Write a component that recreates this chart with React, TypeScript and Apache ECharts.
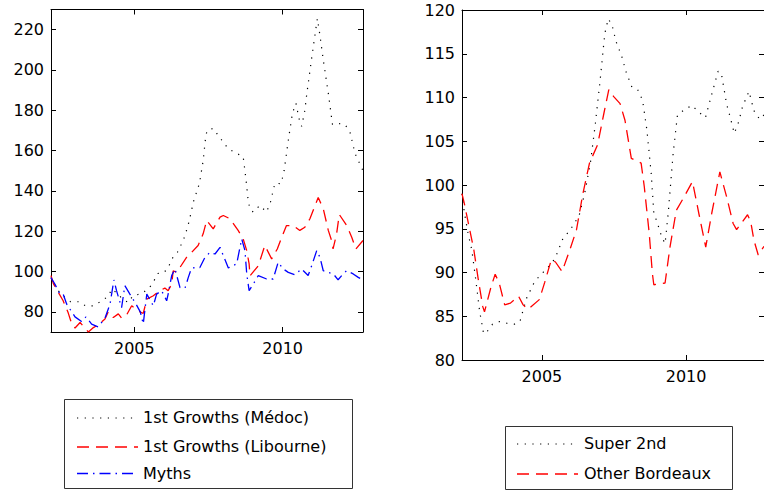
import React, { useEffect, useRef } from "react";
import * as echarts from "echarts";

// ---- Left panel data ----
const medocYears = [2002.19, 2002.35, 2002.55, 2002.85, 2003.15, 2003.35, 2003.6, 2003.85, 2004.1, 2004.25, 2004.45, 2004.6, 2004.8, 2004.95, 2005.25, 2005.5, 2005.65, 2005.78, 2006.0, 2006.15, 2006.25, 2006.45, 2006.58, 2006.7, 2006.85, 2006.99, 2007.2, 2007.32, 2007.4, 2007.45, 2007.66, 2007.82, 2008.16, 2008.45, 2008.67, 2008.77, 2008.84, 2008.9, 2009.01, 2009.23, 2009.46, 2009.59, 2009.74, 2009.95, 2010.05, 2010.19, 2010.33, 2010.45, 2010.55, 2010.64, 2010.75, 2010.81, 2010.98, 2011.1, 2011.17, 2011.25, 2011.37, 2011.54, 2011.68, 2011.84, 2012.1, 2012.27, 2012.44, 2012.71];
const medocValues = [97, 92, 88.5, 85, 85, 83, 83, 85, 87.5, 91.3, 88.8, 86.3, 84.6, 88, 89, 91.8, 95, 99, 99.6, 102, 106, 109.5, 113.4, 117.4, 125, 134.5, 144, 155, 166, 170, 171, 167.7, 161, 158.6, 157, 145, 135, 131, 129.5, 132.8, 129.5, 134.5, 143.8, 143.6, 150, 165, 178.5, 183.5, 176, 172, 180, 187.6, 206, 218.4, 225.5, 218, 205, 188.5, 173, 173.5, 173, 169.3, 158.6, 150];

const libourneYears = [2002.19, 2002.27, 2002.44, 2002.6, 2002.77, 2002.89, 2003.0, 2003.17, 2003.45, 2003.62, 2003.78, 2004.01, 2004.12, 2004.29, 2004.46, 2004.57, 2004.74, 2004.91, 2005.13, 2005.3, 2005.42, 2005.64, 2005.86, 2006.03, 2006.14, 2006.26, 2006.31, 2006.43, 2006.76, 2006.93, 2007.15, 2007.32, 2007.44, 2007.66, 2007.89, 2008.0, 2008.22, 2008.5, 2008.67, 2008.79, 2008.87, 2008.9, 2009.18, 2009.4, 2009.63, 2009.82, 2009.97, 2010.13, 2010.36, 2010.58, 2010.75, 2010.92, 2011.2, 2011.37, 2011.54, 2011.65, 2011.7, 2011.82, 2011.91, 2012.16, 2012.33, 2012.47, 2012.71];
const libourneValues = [98, 94, 89.6, 85.5, 79.5, 74, 72, 74.7, 70, 72.2, 73.5, 76.4, 80, 77.2, 79, 76.9, 78.5, 83, 80.5, 79.2, 86.3, 88, 90.5, 91.8, 90.5, 93.8, 100.4, 99.6, 107, 109.5, 112.9, 118.7, 125.3, 121.2, 127, 127.8, 126.2, 120.4, 116.2, 110.4, 103.8, 97.9, 102.9, 112.9, 106.3, 111.2, 117, 122.8, 122.8, 120.4, 122, 126.2, 136.7, 131.2, 120.4, 115.4, 111.2, 118.7, 128.3, 122.8, 117, 111.2, 115.4];

const mythsYears = [2002.19, 2002.32, 2002.49, 2002.6, 2002.72, 2003.0, 2003.22, 2003.37, 2003.56, 2003.78, 2004.01, 2004.18, 2004.31, 2004.4, 2004.57, 2004.68, 2004.85, 2005.05, 2005.2, 2005.3, 2005.42, 2005.64, 2005.75, 2005.92, 2006.09, 2006.14, 2006.26, 2006.37, 2006.54, 2006.71, 2006.82, 2006.93, 2007.21, 2007.38, 2007.55, 2007.72, 2007.89, 2008.0, 2008.17, 2008.45, 2008.62, 2008.73, 2008.79, 2008.87, 2009.01, 2009.18, 2009.46, 2009.68, 2009.85, 2010.02, 2010.19, 2010.41, 2010.64, 2010.86, 2010.98, 2011.15, 2011.26, 2011.37, 2011.54, 2011.71, 2011.87, 2012.04, 2012.16, 2012.38, 2012.55, 2012.71];
const mythsValues = [97, 93.8, 88.8, 88.8, 83.8, 77.5, 75.2, 77.5, 73.9, 72.5, 76.9, 83.8, 95.8, 90.5, 82.1, 93, 88.8, 84, 80, 74, 88.8, 83, 88.8, 90.5, 85.5, 88.8, 98, 101.3, 92, 91.8, 97.1, 101.8, 102, 107, 109.5, 108.7, 112, 107.9, 101.8, 103.8, 116.2, 110.4, 98.8, 90.5, 93.8, 98, 96.3, 96.3, 104.6, 101.3, 99.6, 98.4, 101.3, 98, 102.9, 110.4, 107, 100.4, 99.6, 98.8, 95.9, 98.8, 100.4, 98.8, 97.1, 95.8];

// ---- Right panel data ----
const super2ndYears = [2002.23, 2002.31, 2002.45, 2002.57, 2002.71, 2002.84, 2002.98, 2003.09, 2003.29, 2003.54, 2003.79, 2004.05, 2004.24, 2004.46, 2004.71, 2004.91, 2005.19, 2005.39, 2005.53, 2005.73, 2005.97, 2006.29, 2006.48, 2006.68, 2006.85, 2007.02, 2007.18, 2007.3, 2007.43, 2007.57, 2007.77, 2007.91, 2008.12, 2008.32, 2008.49, 2008.64, 2008.79, 2008.88, 2008.99, 2009.15, 2009.27, 2009.38, 2009.55, 2009.7, 2009.94, 2010.2, 2010.45, 2010.67, 2010.89, 2011.11, 2011.22, 2011.4, 2011.54, 2011.67, 2011.82, 2011.96, 2012.18, 2012.35, 2012.55, 2012.7];
const super2ndValues = [99, 96.9, 94.3, 92.6, 89.1, 85.6, 83, 83.2, 84.1, 84.4, 84.2, 84.1, 84.4, 87, 88.7, 89.6, 90.5, 91.3, 92.2, 93.9, 94.8, 96.5, 99, 102.5, 106.9, 112, 117.3, 119, 118.3, 116.4, 114.7, 113, 111.2, 110.9, 109.7, 106.3, 101.3, 96.8, 95.8, 94.1, 93.3, 96.8, 103.6, 108, 108.6, 109.1, 108.3, 107.7, 110.4, 113, 112.8, 109.3, 107.6, 105.9, 107.2, 109, 110.7, 108.5, 107.5, 108];

const otherYears = [2002.23, 2002.31, 2002.49, 2002.64, 2002.79, 2002.95, 2003.01, 2003.24, 2003.38, 2003.52, 2003.71, 2003.91, 2004.19, 2004.35, 2004.52, 2004.91, 2005.1, 2005.33, 2005.47, 2005.7, 2005.97, 2006.2, 2006.42, 2006.65, 2006.93, 2007.15, 2007.32, 2007.49, 2007.71, 2007.88, 2008.1, 2008.44, 2008.55, 2008.72, 2008.83, 2008.88, 2009.27, 2009.44, 2009.66, 2009.94, 2010.22, 2010.45, 2010.68, 2010.89, 2011.17, 2011.4, 2011.63, 2011.75, 2012.13, 2012.24, 2012.35, 2012.5, 2012.7];
const otherValues = [99, 97.9, 95, 92.6, 89.3, 86.1, 85.5, 88.4, 89.8, 88.8, 86.3, 86.5, 87.3, 86.3, 85.8, 86.9, 88.9, 91.5, 91.2, 90.1, 92.6, 94.9, 99, 102.5, 104.6, 108.2, 110.9, 110.1, 109.3, 107.4, 103.05, 102.5, 99.8, 94.5, 89.9, 88.6, 88.8, 92.9, 97.1, 98.7, 100.4, 96.6, 92.9, 96.8, 101.5, 98.7, 95.6, 94.9, 96.6, 95.8, 93.7, 92, 93];

const leftXTicks = [2005, 2010];
const rightXTicks = [2005, 2010];
const leftYTicks = [80, 100, 120, 140, 160, 180, 200, 220];

const leftLegend = ["1st Growths (Médoc)", "1st Growths (Libourne)", "Myths"];
const rightLegend = ["Super 2nd", "Other Bordeaux"];

const FONT = '"DejaVu Sans", sans-serif';
const DOT = { color: "#000", width: 1.2, type: [1.2, 6.5] as number[] };
const DASH = { color: "#ff0000", width: 1.3, type: [12, 7] as number[] };
const DASHDOT = { color: "#0000ff", width: 1.3, type: [11, 5, 1.5, 5] as number[] };

const zip = (xs: number[], ys: number[]) => xs.map((x, i) => [x, ys[i]]);

function xAxisDef(gridIndex: number, position: "top" | "bottom", min: number, max: number, ticks: number[], labels: boolean) {
  return {
    type: "value",
    gridIndex,
    position,
    min,
    max,
    axisLine: { show: true, onZero: false, lineStyle: { color: "#000", width: 1 } },
    axisTick: { show: true, inside: true, length: 5, customValues: ticks, lineStyle: { color: "#000" } },
    axisLabel: {
      show: labels,
      customValues: ticks,
      formatter: (v: number) => String(v),
      color: "#000",
      fontSize: 16,
      fontFamily: FONT,
      margin: 8,
    },
    splitLine: { show: false },
  };
}

function yAxisDef(gridIndex: number, position: "left" | "right", min: number, max: number, labels: boolean, ticks?: number[], interval?: number) {
  const tickCfg: any = { show: true, inside: true, length: 5, lineStyle: { color: "#000" } };
  const labelCfg: any = {
    show: labels,
    color: "#000",
    fontSize: 16,
    fontFamily: FONT,
    margin: 7,
    formatter: (v: number) => String(v),
  };
  if (ticks) {
    tickCfg.customValues = ticks;
    labelCfg.customValues = ticks;
  }
  const ax: any = {
    type: "value",
    gridIndex,
    position,
    min,
    max,
    axisLine: { show: true, onZero: false, lineStyle: { color: "#000", width: 1 } },
    axisTick: tickCfg,
    axisLabel: labelCfg,
    splitLine: { show: false },
  };
  if (interval) ax.interval = interval;
  return ax;
}

function legendGraphics(box: { x: number; y: number; w: number; h: number }, lineX1: number, lineX2: number, textX: number, rows: number[], labels: string[], styles: any[]) {
  const els: any[] = [
    {
      type: "rect",
      shape: { x: box.x + 0.5, y: box.y + 0.5, width: box.w, height: box.h },
      style: { fill: "#fff", stroke: "#333", lineWidth: 1 },
    },
  ];
  labels.forEach((label, i) => {
    els.push({
      type: "line",
      shape: { x1: lineX1, y1: rows[i] + 0.5, x2: lineX2, y2: rows[i] + 0.5 },
      style: { stroke: styles[i].color, lineWidth: styles[i].width, lineDash: styles[i].type },
    });
    els.push({
      type: "text",
      x: textX,
      y: rows[i],
      style: { text: label, font: `16px ${FONT}`, fill: "#000", verticalAlign: "middle", align: "left" },
    });
  });
  return els;
}

export default function App() {
  const ref = useRef<HTMLDivElement>(null);
  useEffect(() => {
    if (!ref.current) return;
    const chart = echarts.init(ref.current, null, { renderer: "svg" });
    const option: any = {
      animation: false,
      backgroundColor: "#fff",
      grid: [
        { left: 51, top: 9.5, width: 312, height: 322.5 },
        { left: 462, top: 10, width: 312, height: 350 },
      ],
      xAxis: [
        xAxisDef(0, "bottom", 2002.19, 2012.71, leftXTicks, true),
        xAxisDef(0, "top", 2002.19, 2012.71, leftXTicks, false),
        xAxisDef(1, "bottom", 2002.23, 2012.7, rightXTicks, true),
        xAxisDef(1, "top", 2002.23, 2012.7, rightXTicks, false),
      ],
      yAxis: [
        yAxisDef(0, "left", 70, 230, true, leftYTicks),
        yAxisDef(0, "right", 70, 230, false, leftYTicks),
        yAxisDef(1, "left", 80, 120, true, undefined, 5),
        yAxisDef(1, "right", 80, 120, false, undefined, 5),
      ],
      series: [
        { name: leftLegend[0], type: "line", xAxisIndex: 0, yAxisIndex: 0, data: zip(medocYears, medocValues), showSymbol: false, lineStyle: DOT, z: 2 },
        { name: leftLegend[1], type: "line", xAxisIndex: 0, yAxisIndex: 0, data: zip(libourneYears, libourneValues), showSymbol: false, lineStyle: DASH, z: 3 },
        { name: leftLegend[2], type: "line", xAxisIndex: 0, yAxisIndex: 0, data: zip(mythsYears, mythsValues), showSymbol: false, lineStyle: DASHDOT, z: 4 },
        { name: rightLegend[0], type: "line", xAxisIndex: 2, yAxisIndex: 2, data: zip(super2ndYears, super2ndValues), showSymbol: false, lineStyle: DOT, z: 2 },
        { name: rightLegend[1], type: "line", xAxisIndex: 2, yAxisIndex: 2, data: zip(otherYears, otherValues), showSymbol: false, lineStyle: DASH, z: 3 },
      ],
      graphic: [
        ...legendGraphics({ x: 64, y: 399, w: 288, h: 89 }, 77, 138, 143, [417.5, 446.5, 473], leftLegend, [DOT, DASH, DASHDOT]),
        ...legendGraphics({ x: 505, y: 426, w: 227, h: 63 }, 517, 578, 584, [443.5, 473.5], rightLegend, [DOT, DASH]),
      ],
    };
    chart.setOption(option);
    return () => chart.dispose();
  }, []);
  return (
    <div
      ref={ref}
      style={{ position: "fixed", left: 0, top: 0, width: 764, height: 490, background: "#fff" }}
    />
  );
}
